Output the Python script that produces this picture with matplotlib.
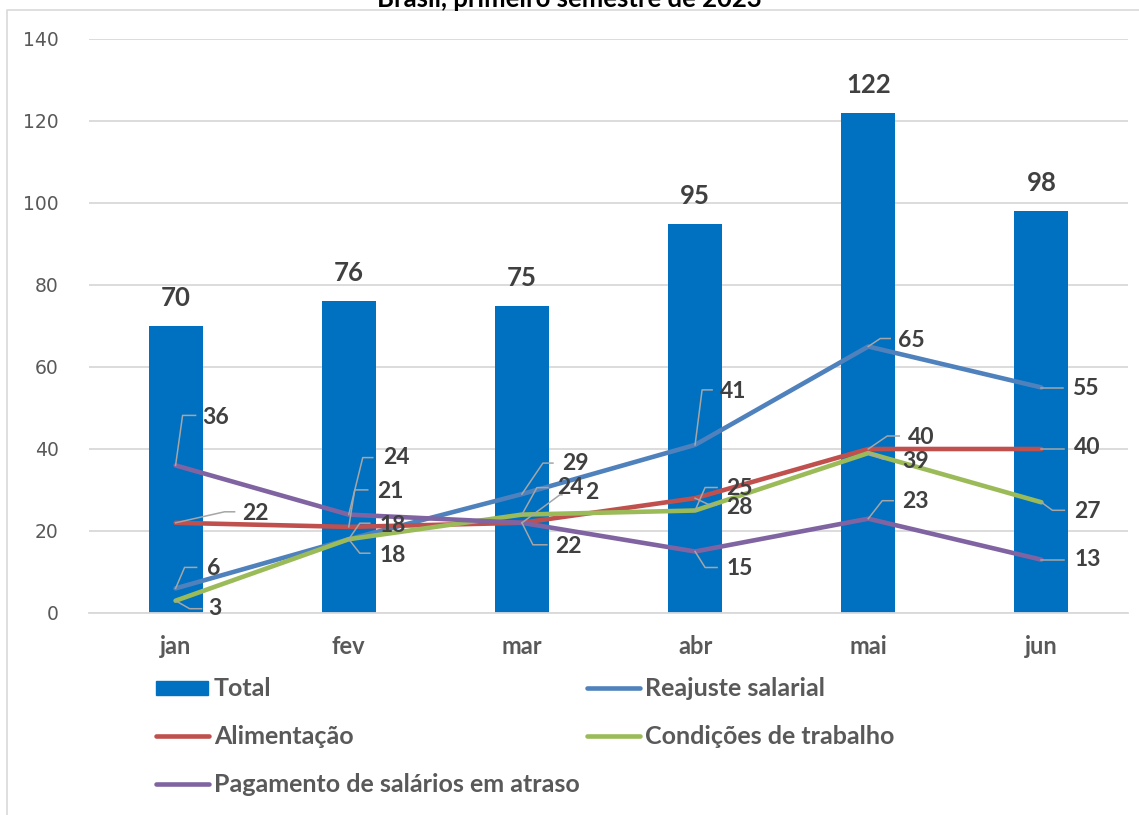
import numpy as np
import matplotlib.pyplot as plt
from matplotlib.lines import Line2D
from matplotlib.patches import Rectangle

# dados
meses = ['jan', 'fev', 'mar', 'abr', 'mai', 'jun']
total = [70, 76, 75, 95, 122, 98]
reajuste = [6, 18, 29, 41, 65, 55]
alimentacao = [22, 21, 22, 28, 40, 40]
condicoes = [3, 18, 24, 25, 39, 27]
pagamento = [36, 24, 22, 15, 23, 13]

titulo = 'Brasil, primeiro semestre de 2023'

cor_barra = '#0070C0'
series = {
    'Reajuste salarial': (reajuste, '#4F81BD'),
    'Alimentação': (alimentacao, '#C0504D'),
    'Condições de trabalho': (condicoes, '#9BBB59'),
    'Pagamento de salários em atraso': (pagamento, '#8064A2'),
}

# posicao dos rotulos (em pixels, relativo ao ponto): texto dx, dy, cotovelo dx, dy, fim dx
rotulos = [
    ('Pagamento de salários em atraso', 0, 27, -48, 7, -50, 20),
    ('Alimentação', 0, 67, -9, 49, -11, 59),
    ('Reajuste salarial', 0, 31, -20, 9, -21, 21),
    ('Condições de trabalho', 0, 33, 8, 14, 8, 26),
    ('Pagamento de salários em atraso', 1, 34, -57, 14, -57, 24),
    ('Alimentação', 1, 28, -35, 6, -37, 19),
    ('Reajuste salarial', 1, 31, -14, 11, -16, 21),
    ('Condições de trabalho', 1, 31, 16, 11, 14, 21),
    ('Reajuste salarial', 2, 40, -31, 21, -31, 31),
    ('Condições de trabalho', 2, 35, -27, 15, -27, 26),
    ('Alimentação', 2, 63, -30, 38, -28, 40),
    ('Pagamento de salários em atraso', 2, 33, 24, 11, 22, 25),
    ('Reajuste salarial', 3, 25, -53, 7, -55, 17),
    ('Condições de trabalho', 3, 31, -22, 10, -23, 22),
    ('Alimentação', 3, 31, 9, 15, 7, 21),
    ('Pagamento de salários em atraso', 3, 31, 17, 10, 16, 22),
    ('Reajuste salarial', 4, 30, -6, 12, -8, 22),
    ('Alimentação', 4, 40, -11, 19, -13, 31),
    ('Condições de trabalho', 4, 34, 8, 15, 6, 15),
    ('Pagamento de salários em atraso', 4, 34, -17, 14, -18, 25),
    ('Reajuste salarial', 5, 31, 1, 0, 0, 22),
    ('Alimentação', 5, 33, -1, 0, 0, 23),
    ('Condições de trabalho', 5, 33, 9, 11, 8, 23),
    ('Pagamento de salários em atraso', 5, 33, 0, 0, 0, 23),
]
# rotulo cortado no original
texto_especial = {('Alimentação', 2): '2'}

fonte = 'Lato'
cinza_txt = '#595959'
escuro = '#404040'

fig = plt.figure(figsize=(11.39, 8.15), dpi=100)
ax = fig.add_axes([89 / 1139, 1 - 613 / 815, (1128 - 89) / 1139, (613 - 39) / 815])

x = np.arange(len(meses))
barras = ax.bar(x, total, width=0.312, color=cor_barra, zorder=2)
for xi, v in zip(x, total):
    ax.annotate(str(v), (xi, v), xytext=(0, 28), textcoords='offset pixels',
                ha='center', va='center', fontsize=18.5, fontweight='bold',
                color=escuro, family=fonte)

for nome, (vals, cor) in series.items():
    ax.plot(x, vals, color=cor, lw=3.3, solid_capstyle='round',
            solid_joinstyle='round', zorder=3)

ax.set_xlim(-0.5, 5.5)
ax.set_ylim(0, 140)
ax.set_yticks(range(0, 141, 20))
ax.set_xticks(x)
ax.set_xticklabels(meses)
for lab in ax.get_xticklabels():
    lab.set_fontweight('bold')
    lab.set_family(fonte)
    lab.set_fontsize(17)
    lab.set_color(cinza_txt)
for lab in ax.get_yticklabels():
    lab.set_family('DejaVu Sans')
    lab.set_fontsize(13.5)
    lab.set_color(cinza_txt)
ax.tick_params(axis='both', length=0)
ax.tick_params(axis='y', pad=22)
ax.tick_params(axis='x', pad=16)
ax.grid(axis='y', color='#D9D9D9', lw=1.3, zorder=0)
ax.set_axisbelow(True)
for s in ['top', 'right', 'left']:
    ax.spines[s].set_visible(False)
ax.spines['bottom'].set_color('#D9D9D9')
ax.spines['bottom'].set_linewidth(1.3)

# rotulos com linhas de chamada
inv = ax.transData.inverted()
for nome, i, tdx, tdy, kdx, kdy, edx in rotulos:
    vals, cor = series[nome]
    v = vals[i]
    px, py = ax.transData.transform((x[i], v))
    pts = [(px, py), (px + kdx, py - kdy), (px + edx, py - kdy)]
    dat = inv.transform(pts)
    ax.plot(dat[:, 0], dat[:, 1], color='#A6A6A6', lw=1.1, zorder=4,
            clip_on=False)
    txt = texto_especial.get((nome, i), str(v))
    ax.annotate(txt, (x[i], v), xytext=(tdx, -tdy), textcoords='offset pixels',
                ha='left', va='center', fontsize=16.5, fontweight='bold',
                color=escuro, family=fonte, zorder=5)

# legenda manual
def fy(p):
    return 1 - p / 815

def fx(p):
    return p / 1139

leg = [
    ('Total', 'bar', cor_barra, 156, 688),
    ('Reajuste salarial', 'line', series['Reajuste salarial'][1], 587, 688),
    ('Alimentação', 'line', series['Alimentação'][1], 156, 736),
    ('Condições de trabalho', 'line', series['Condições de trabalho'][1], 587, 736),
    ('Pagamento de salários em atraso', 'line',
     series['Pagamento de salários em atraso'][1], 156, 784),
]
for nome, tipo, cor, lx, ly in leg:
    if tipo == 'bar':
        fig.patches.append(Rectangle((fx(lx), fy(ly + 7)), fx(52), 14 / 815,
                                     transform=fig.transFigure, color=cor))
    else:
        fig.add_artist(Line2D([fx(lx), fx(lx + 53)], [fy(ly), fy(ly)],
                              transform=fig.transFigure, color=cor, lw=3.3,
                              solid_capstyle='round'))
    fig.text(fx(lx + 58), fy(ly), nome, ha='left', va='center', fontsize=18,
             fontweight='bold', color=cinza_txt, family=fonte)

# borda do grafico e titulo cortado
fig.add_artist(Line2D([fx(7), fx(7), 1.0], [0, fy(10), fy(10)],
                      transform=fig.transFigure, color='#D9D9D9', lw=1.2))
fig.text(0.5, fy(7), titulo, ha='center', va='baseline', fontsize=18.5,
         fontweight='bold', color='black', family=fonte)

fig.savefig('out.png', dpi=100)
